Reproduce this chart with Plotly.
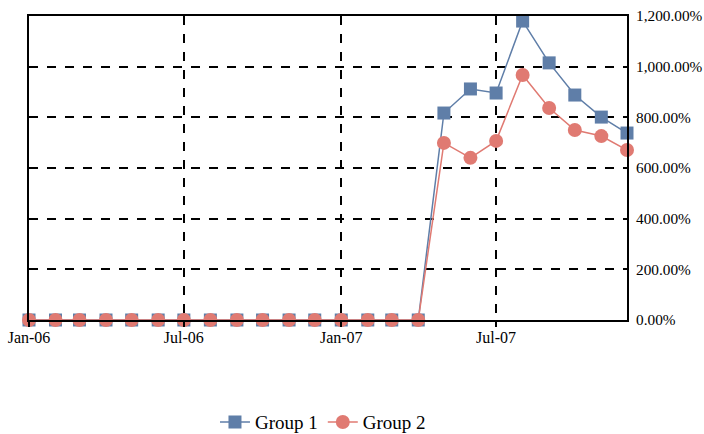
import plotly.graph_objects as go

months = ["2006-01-01","2006-02-01","2006-03-01","2006-04-01","2006-05-01","2006-06-01",
          "2006-07-01","2006-08-01","2006-09-01","2006-10-01","2006-11-01","2006-12-01",
          "2007-01-01","2007-02-01","2007-03-01","2007-04-01","2007-05-01","2007-06-01",
          "2007-07-01","2007-08-01","2007-09-01","2007-10-01","2007-11-01","2007-12-01"]
group1 = [0]*16 + [8.17, 9.12, 8.96, 11.80, 10.15, 8.88, 8.01, 7.38]
group2 = [0]*16 + [6.99, 6.40, 7.07, 9.67, 8.37, 7.50, 7.26, 6.71]
tick_vals = ["2006-01-01", "2006-07-01", "2007-01-01", "2007-07-01"]
tick_text = ["Jan-06", "Jul-06", "Jan-07", "Jul-07"]

blue = "#5f7ea8"
red = "#e07a72"

fig = go.Figure()
fig.add_trace(go.Scatter(x=months, y=group1, name="Group 1", mode="lines+markers",
                         line=dict(color=blue, width=1.5),
                         marker=dict(symbol="square", size=13, color=blue),
                         cliponaxis=False))
fig.add_trace(go.Scatter(x=months, y=group2, name="Group 2", mode="lines+markers",
                         line=dict(color=red, width=1.5),
                         marker=dict(symbol="circle", size=14, color=red),
                         cliponaxis=False))

fig.update_layout(
    width=704, height=434,
    margin=dict(l=29, r=77, t=16, b=114, autoexpand=False),
    paper_bgcolor="white", plot_bgcolor="white",
    font=dict(family="Liberation Serif", size=16, color="black"),
    showlegend=True,
    legend=dict(orientation="h", x=0.4916, xanchor="center", xref="paper",
                y=-0.336, yanchor="middle", font=dict(size=19), itemwidth=30),
    xaxis=dict(type="date", range=["2006-01-01", "2007-12-01"],
               tickvals=tick_vals, ticktext=tick_text, automargin=False,
               ticklabeloverflow="allow", ticklabelstandoff=-3,
               showgrid=True, gridcolor="black", griddash="dash", gridwidth=1.5,
               showline=True, linecolor="black", linewidth=2, mirror=True,
               ticks="outside", ticklen=5, tickcolor="black", tickwidth=1.5,
               zeroline=False),
    yaxis=dict(range=[0, 12], side="right", dtick=2, tick0=0,
               tickformat=",.2%", automargin=False, tickfont=dict(size=15.3),
               ticklabeloverflow="allow",
               showgrid=True, gridcolor="black", griddash="dash", gridwidth=1.5,
               showline=True, linecolor="black", linewidth=2, mirror=True,
               ticks="", ticklabelstandoff=4, zeroline=False),
)

fig.write_html("out.html", config={"displayModeBar": False},
               post_script="document.body.style.margin='0';document.body.style.overflow='hidden';")
